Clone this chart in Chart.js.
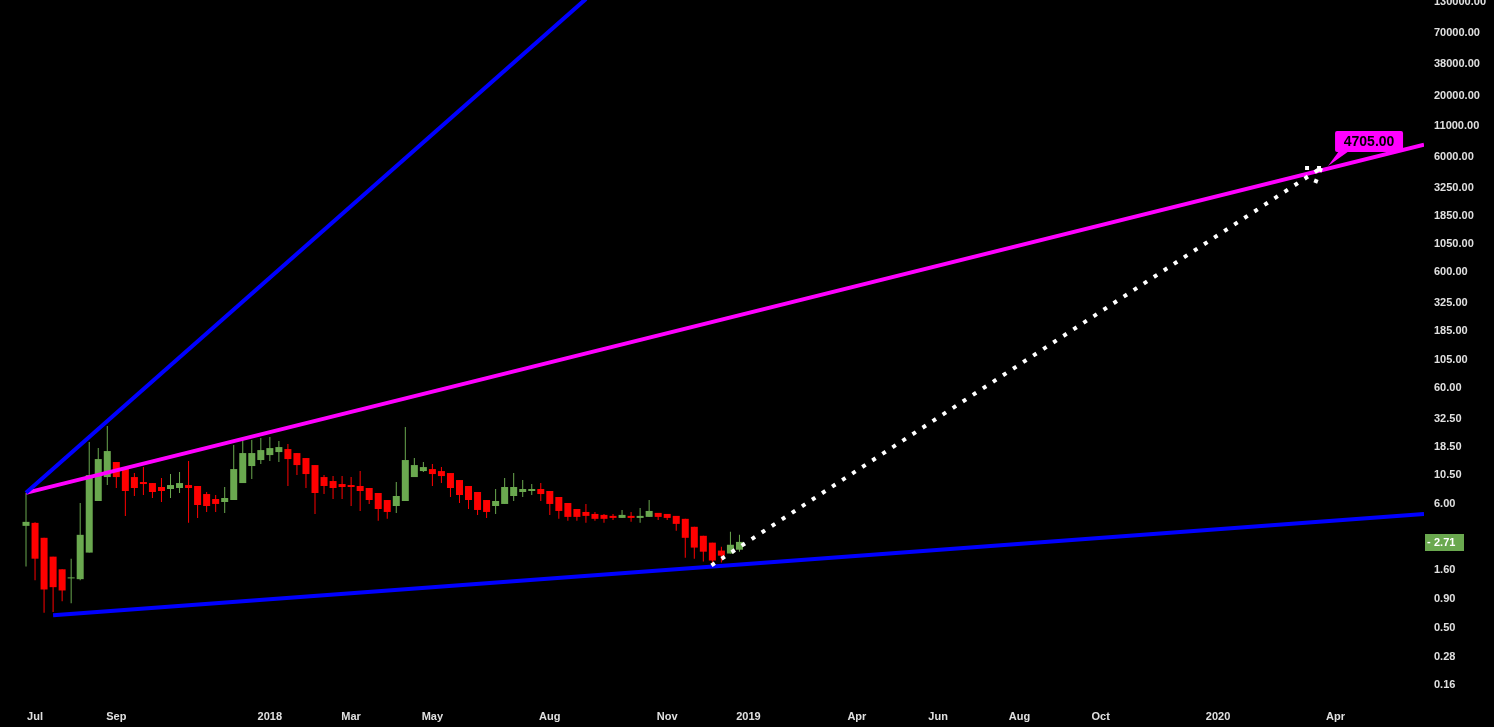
<!DOCTYPE html>
<html>
<head>
<meta charset="utf-8">
<style>
  html, body { margin: 0; padding: 0; background: #000; }
  canvas { display: block; }
</style>
<script src="https://cdn.jsdelivr.net/npm/chart.js@4.4.0/dist/chart.umd.min.js"></script>
</head>
<body>
<canvas id="myChart" width="1494" height="727"></canvas>
<script>
// weekly candles, first week starts 2017-06-26
const open = [3.73, 3.96, 2.94, 2.02, 1.57, 1.31, 1.29, 2.19, 6.12, 9.86,
    13.30, 12.03, 9.86, 8.93, 8.75, 8.09, 7.77, 7.93, 8.41, 8.25,
    7.03, 6.37, 6.00, 6.24, 8.75, 12.28, 13.84, 15.28, 16.22, 17.22,
    15.90, 14.40, 12.52, 9.86, 9.11, 8.58, 8.41, 8.25, 7.93, 7.18,
    6.24, 5.54, 6.12, 9.86, 11.11, 11.56, 11.11, 10.68, 9.29, 8.25,
    7.32, 6.24, 5.54, 5.77, 6.76, 7.32, 7.47, 7.77, 7.47, 6.63,
    5.88, 5.22, 4.92, 4.73, 4.64, 4.55, 4.37, 4.55, 4.37, 4.46,
    4.83, 4.73, 4.55, 4.29, 3.66, 3.06, 2.67, 2.28, 2.15, 2.32];
const high = [7.18, 4.00, 2.94, 2.02, 1.57, 1.94, 5.88, 19.79, 17.56, 27.2,
    13.30, 12.03, 10.68, 12.03, 8.75, 9.67, 10.47, 10.90, 13.56, 8.25,
    7.32, 6.90, 8.09, 18.64, 21.86, 20.59, 21.43, 21.86, 20.19, 19.02,
    15.90, 14.40, 12.52, 10.26, 10.06, 10.06, 9.86, 11.11, 7.93, 7.18,
    6.24, 8.93, 26.7, 14.40, 13.30, 12.78, 12.03, 10.68, 9.29, 8.25,
    7.32, 6.24, 7.77, 9.67, 10.68, 9.29, 8.58, 8.75, 7.47, 6.63,
    5.88, 5.22, 5.77, 4.92, 4.73, 4.73, 5.12, 4.92, 5.33, 6.24,
    4.83, 4.73, 4.55, 4.29, 3.66, 3.06, 2.67, 2.46, 3.31, 3.12];
const low = [1.66, 1.26, 0.66, 0.67, 0.83, 0.80, 1.26, 2.19, 6.12, 8.41,
    7.93, 4.55, 6.76, 6.90, 6.50, 6.00, 6.50, 7.18, 3.96, 4.37,
    4.92, 4.92, 4.83, 6.24, 8.75, 9.48, 12.78, 13.56, 13.30, 8.25,
    10.26, 7.93, 4.73, 7.03, 6.37, 6.37, 5.54, 5.02, 5.77, 4.12,
    4.29, 4.83, 6.12, 9.86, 10.90, 8.25, 8.75, 6.63, 5.88, 5.22,
    4.64, 4.37, 4.73, 5.77, 6.12, 6.63, 6.90, 6.12, 4.64, 4.29,
    4.12, 4.12, 3.96, 4.12, 3.96, 4.20, 4.37, 4.04, 3.96, 4.46,
    4.20, 4.20, 3.38, 1.98, 1.94, 1.83, 1.73, 1.80, 2.15, 2.23];
const close = [4.04, 1.94, 1.05, 1.10, 1.03, 1.33, 3.12, 10.26, 14.11, 16.55,
    9.86, 7.47, 7.93, 8.58, 7.32, 7.47, 8.41, 8.75, 7.93, 5.65,
    5.54, 5.77, 6.50, 11.56, 15.90, 15.90, 16.88, 17.56, 17.92, 14.11,
    12.52, 10.47, 7.18, 8.25, 7.93, 8.09, 8.09, 7.47, 6.24, 5.22,
    4.92, 6.76, 13.84, 12.52, 12.03, 10.47, 10.06, 7.93, 6.90, 6.24,
    5.12, 4.92, 6.12, 8.09, 8.09, 7.77, 7.77, 7.03, 5.77, 5.02,
    4.46, 4.46, 4.55, 4.29, 4.29, 4.37, 4.64, 4.37, 4.55, 5.02,
    4.46, 4.37, 3.88, 2.94, 2.42, 2.23, 1.87, 2.06, 2.56, 2.71];

// x ticks in weeks from the first candle
const xTickWeeks = [1, 10, 27, 36, 45, 58, 71, 80, 92, 101, 110, 119, 132, 145];
const xTickLabels = ['Jul', 'Sep', '2018', 'Mar', 'May', 'Aug', 'Nov', '2019', 'Apr', 'Jun', 'Aug', 'Oct', '2020', 'Apr'];
const yTicks = [130000, 70000, 38000, 20000, 11000, 6000, 3250, 1850, 1050, 600, 325, 185, 105,
    60, 32.5, 18.5, 10.5, 6, 1.6, 0.9, 0.5, 0.28, 0.16];

// drawn lines (week, price)
const steepLine = [{x: 0, y: 7.2}, {x: 62, y: 135000}];
const upperLine = [{x: 0, y: 7.2}, {x: 154.8, y: 7400}];
const lowerLine = [{x: 3, y: 0.63}, {x: 154.8, y: 4.72}];
const projection = [{x: 75.9, y: 1.70}, {x: 143.4, y: 4650}];
const arrowLeft = [{x: 143.4, y: 4650}, {x: 141.2, y: 4650}];
const arrowDown = [{x: 143.4, y: 4650}, {x: 142.5, y: 3060}];
const targetLabel = '4705.00';

const GREEN = '#6aa84f';
const RED = '#ff0000';
const candleColors = close.map((c, i) => c >= open[i] ? GREEN : RED);

const labelPlugin = {
    id: 'priceLabels',
    afterDraw(chart) {
        const {ctx, chartArea} = chart;
        const x = chart.scales.x;
        const y = chart.scales.y;
        ctx.save();

        // last price tag
        const last = close[close.length - 1];
        const py = Math.round(y.getPixelForValue(last));
        ctx.fillStyle = GREEN;
        ctx.fillRect(chartArea.right + 1, py - 8, 39, 17);
        ctx.fillStyle = '#ffffff';
        ctx.font = 'bold 11px "Liberation Sans", Arial, sans-serif';
        ctx.textBaseline = 'middle';
        ctx.textAlign = 'left';
        ctx.fillText('-', chartArea.right + 3, py);
        ctx.fillText(last.toFixed(2), chartArea.right + 10, py + 1);

        // target callout
        const tip = projection[1];
        const tx = x.getPixelForValue(tip.x);
        const ty = y.getPixelForValue(tip.y);
        ctx.fillStyle = '#ff00ff';
        ctx.beginPath();
        ctx.moveTo(tx + 18, ty - 17);
        ctx.lineTo(tx + 28, ty - 17);
        ctx.lineTo(tx + 7, ty - 2);
        ctx.closePath();
        ctx.fill();
        ctx.beginPath();
        ctx.roundRect(tx + 14, ty - 37, 68, 21, 2);
        ctx.fill();
        ctx.fillStyle = '#000000';
        ctx.font = 'bold 14px "Liberation Sans", Arial, sans-serif';
        ctx.textAlign = 'center';
        ctx.fillText(targetLabel, tx + 48, ty - 26);
        ctx.restore();
    }
};

function lineSet(data, color, width, dash) {
    return {
        type: 'line',
        data: data,
        borderColor: color,
        borderWidth: width,
        borderDash: dash || [],
        borderCapStyle: 'butt',
        pointRadius: 0,
        fill: false,
        tension: 0
    };
}

const ctx = document.getElementById('myChart').getContext('2d');

const myChart = new Chart(ctx, {
    type: 'bar',
    data: {
        datasets: [
            lineSet(arrowLeft, '#ffffff', 4, [4, 8]),
            lineSet(arrowDown, '#ffffff', 4, [4, 8]),
            lineSet(projection, '#ffffff', 4, [4, 8]),
            lineSet(steepLine, '#0000ff', 4),
            lineSet(lowerLine, '#0000ff', 4),
            lineSet(upperLine, '#ff00ff', 4),
            {
                label: 'body',
                data: open.map((o, i) => ({x: i, y: [Math.min(o, close[i]), Math.max(o, close[i])]})),
                backgroundColor: candleColors,
                grouped: false,
                maxBarThickness: 7,
                barPercentage: 1,
                categoryPercentage: 1,
                inflateAmount: 0,
                borderWidth: 0,
                minBarLength: 1
            },
            {
                label: 'wick',
                data: high.map((h, i) => ({x: i, y: [low[i], h]})),
                backgroundColor: candleColors,
                grouped: false,
                maxBarThickness: 1,
                barPercentage: 1,
                categoryPercentage: 1,
                inflateAmount: 0,
                borderWidth: 0
            }
        ]
    },
    options: {
        responsive: false,
        animation: false,
        devicePixelRatio: 1,
        layout: { padding: 0 },
        plugins: {
            legend: { display: false },
            tooltip: { enabled: false }
        },
        scales: {
            x: {
                type: 'linear',
                offset: false,
                min: -2.88,
                max: 154.8,
                grid: { display: false, drawTicks: false },
                border: { display: false },
                ticks: {
                    autoSkip: false,
                    maxRotation: 0,
                    padding: 5,
                    color: '#e0e0e0',
                    font: { family: 'Liberation Sans', size: 11, weight: 'bold' },
                    callback: value => xTickLabels[xTickWeeks.indexOf(value)]
                },
                afterBuildTicks: scale => {
                    scale.ticks = xTickWeeks.map(w => ({value: w}));
                },
                afterFit: scale => {
                    scale.height = 22;
                    scale.paddingLeft = 0;
                    scale.paddingRight = 0;
                }
            },
            y: {
                type: 'logarithmic',
                position: 'right',
                min: 0.1052,
                max: 132070,
                grid: { display: false, drawTicks: false },
                border: { display: false },
                ticks: {
                    autoSkip: false,
                    padding: 10,
                    labelOffset: 1.5,
                    color: '#e0e0e0',
                    font: { family: 'Liberation Sans', size: 11, weight: 'bold' },
                    callback: value => Number(value).toFixed(2)
                },
                afterBuildTicks: scale => {
                    scale.ticks = yTicks.map(v => ({value: v}));
                },
                afterFit: scale => {
                    scale.width = 70;
                    scale.paddingTop = 0;
                    scale.paddingBottom = 0;
                }
            }
        }
    },
    plugins: [labelPlugin]
});
</script>
</body>
</html>
